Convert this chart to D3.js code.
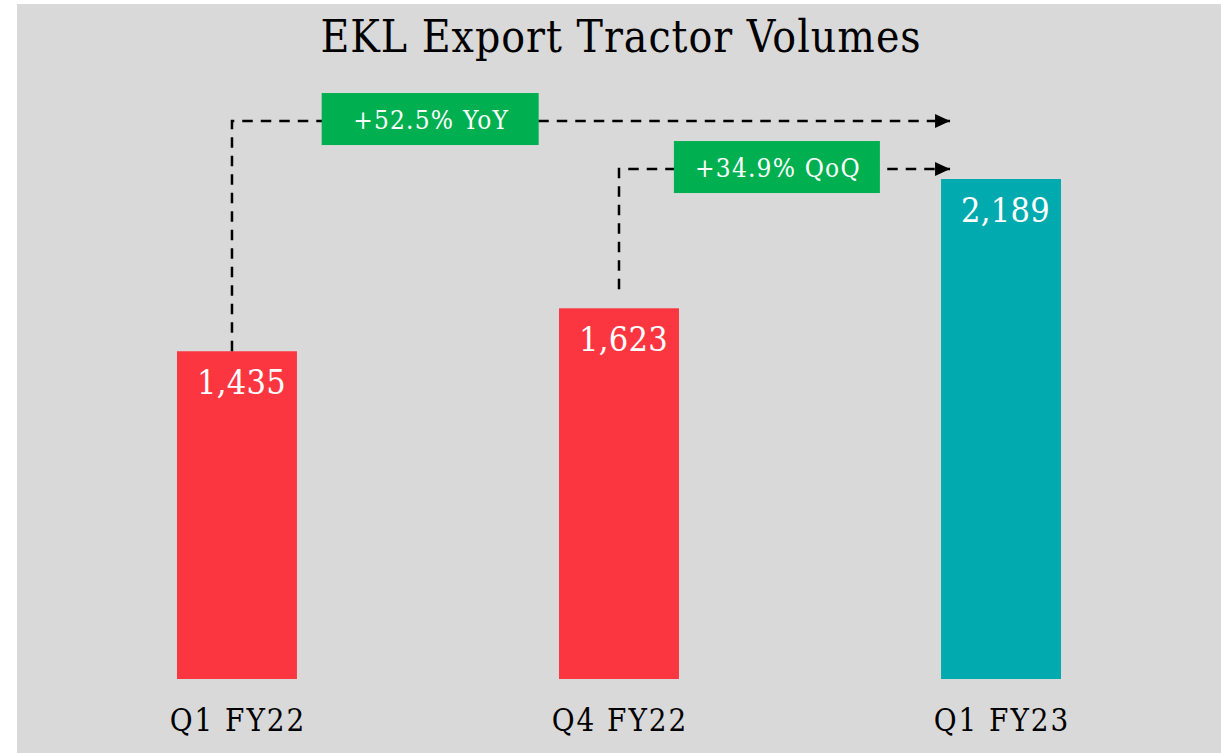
<!DOCTYPE html>
<html>
<head>
<meta charset="utf-8">
<script src="https://cdn.jsdelivr.net/npm/d3@7"></script>
<style>
    body { margin: 0; background: #fff; }
    text { font-family: "DejaVu Serif Condensed", "DejaVu Serif", serif; font-stretch: condensed; }
</style>
</head>
<body>
<script>
    // data
    var categories = ["Q1 FY22", "Q4 FY22", "Q1 FY23"];
    var volumes = [1435, 1623, 2189];
    var barColors = ["#fc3640", "#fc3640", "#00aaae"];
    // growth arrows: from bar index -> to bar index
    var changeFrom = [0, 1];
    var changeTo = [2, 2];
    var changeSuffix = ["YoY", "QoQ"];

    var width = 1221, height = 753;
    var svg = d3.select("body").append("svg")
        .attr("width", width)
        .attr("height", height);

    // grey panel
    svg.append("rect")
        .attr("x", 17).attr("y", 4)
        .attr("width", width - 17).attr("height", height - 4)
        .attr("fill", "#d9d9d9");

    var x = d3.scaleBand()
        .domain(categories)
        .range([177, 1061])
        .paddingInner(0.686)
        .paddingOuter(0);

    var y = d3.scaleLinear()
        .domain([0, 2400])
        .range([679, 679 - 2400 * 0.2284]);

    // title
    svg.append("text")
        .attr("x", 621).attr("y", 52)
        .attr("text-anchor", "middle")
        .attr("font-size", 44)
        .attr("letter-spacing", 1)
        .attr("fill", "#000")
        .text("EKL Export Tractor Volumes");

    // bars
    svg.append("g").selectAll("rect")
        .data(volumes)
        .enter().append("rect")
        .attr("x", function (d, i) { return x(categories[i]); })
        .attr("y", function (d) { return y(d); })
        .attr("width", x.bandwidth())
        .attr("height", function (d) { return y(0) - y(d); })
        .attr("fill", function (d, i) { return barColors[i]; });

    // value labels inside bars
    svg.append("g").selectAll("text")
        .data(volumes)
        .enter().append("text")
        .attr("x", function (d, i) { return x(categories[i]) + x.bandwidth() - 11; })
        .attr("y", function (d) { return y(d) + 43; })
        .attr("text-anchor", "end")
        .attr("font-size", 34)
        .attr("letter-spacing", 0.3)
        .attr("fill", "#fff")
        .text(function (d) { return d3.format(",")(d); });

    // category labels
    svg.append("g").selectAll("text")
        .data(categories)
        .enter().append("text")
        .attr("x", function (d) { return x(d) + x.bandwidth() / 2 + 1; })
        .attr("y", 731)
        .attr("text-anchor", "middle")
        .attr("font-size", 31)
        .attr("letter-spacing", 2)
        .attr("fill", "#000")
        .text(function (d) { return d; });

    // arrow head
    svg.append("defs").append("marker")
        .attr("id", "arrow")
        .attr("markerUnits", "userSpaceOnUse")
        .attr("viewBox", "0 -7 15 14")
        .attr("refX", 15).attr("refY", 0)
        .attr("markerWidth", 15).attr("markerHeight", 14)
        .attr("orient", "auto")
        .append("path")
        .attr("d", "M0,-7L15,0L0,7Z")
        .attr("fill", "#000");

    // layout of the growth annotations
    var annLayout = [
        { dx: -5, startGap: 0, lineY: -58, boxPos: 0.276, boxW: 217 },
        { dx: 0, startGap: 19, lineY: -10, boxPos: 0.477, boxW: 206 }
    ];
    var endX = x(categories[2]) + 9;
    var topY = y(d3.max(volumes));

    var ann = svg.append("g").selectAll("g")
        .data(changeFrom)
        .enter().append("g");

    ann.each(function (fromIdx, i) {
        var g = d3.select(this);
        var L = annLayout[i];
        var toIdx = changeTo[i];
        var x0 = x(categories[fromIdx]) + x.bandwidth() / 2 + L.dx;
        var y0 = y(volumes[fromIdx]) - L.startGap;
        var ly = topY + L.lineY;
        var x1 = endX;
        var pct = (volumes[toIdx] / volumes[fromIdx] - 1) * 100;

        g.append("path")
            .attr("d", "M" + x0 + "," + y0 + "V" + ly + "H" + x1)
            .attr("fill", "none")
            .attr("stroke", "#000")
            .attr("stroke-width", 2.5)
            .attr("stroke-dasharray", "10.5,8")
            .attr("marker-end", "url(#arrow)");

        var cx = x0 + (x1 - x0) * L.boxPos;
        g.append("rect")
            .attr("x", cx - L.boxW / 2)
            .attr("y", ly - 28)
            .attr("width", L.boxW)
            .attr("height", 52)
            .attr("fill", "#00b050");

        g.append("text")
            .attr("x", cx + 1)
            .attr("y", ly + 8)
            .attr("text-anchor", "middle")
            .attr("font-size", 26)
            .attr("letter-spacing", 1.2)
            .attr("fill", "#fff")
            .text("+" + d3.format(".1f")(pct) + "% " + changeSuffix[i]);
    });
</script>
</body>
</html>
